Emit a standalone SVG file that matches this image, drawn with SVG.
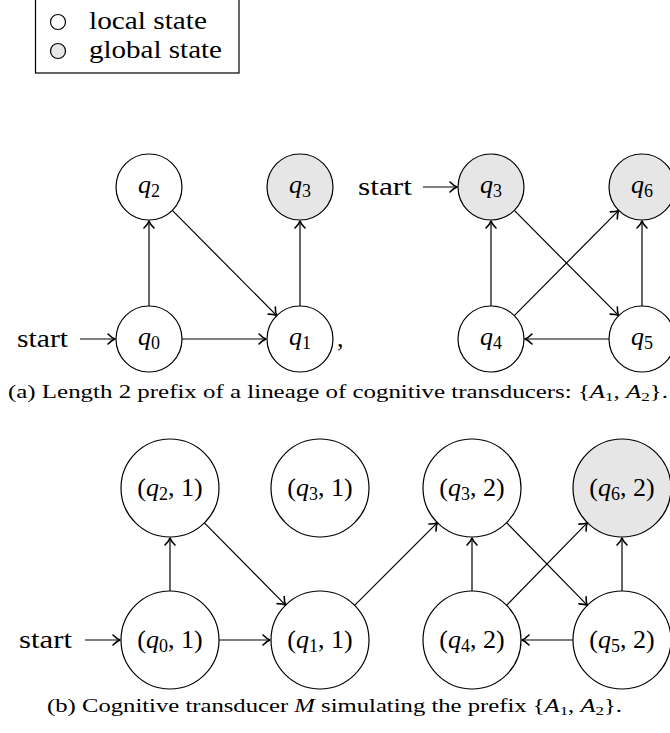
<svg xmlns="http://www.w3.org/2000/svg" width="670" height="733" viewBox="0 0 670 733">
<style>
.n{fill:#fff;stroke:#000;stroke-width:1.2}
.g{fill:#e6e6e6;stroke:#000;stroke-width:1.2}
.t{font-family:"Liberation Serif","Times New Roman",serif;font-size:26px;fill:#000}
.lab{font-family:"Liberation Serif","Times New Roman",serif;font-size:26px;fill:#000;text-anchor:middle}
.i{font-style:italic}
.cap{font-family:"Liberation Serif","Times New Roman",serif;font-size:19px;fill:#000}
.leg{font-family:"Liberation Serif","Times New Roman",serif;font-size:25px;fill:#000}
.e{stroke:#000;stroke-width:1.2;fill:none;marker-end:url(#arr)}
</style>
<defs>
<marker id="arr" markerUnits="userSpaceOnUse" viewBox="-9 -7 11 14" markerWidth="11" markerHeight="14" refX="0" refY="0" orient="auto">
<path d="M -7 -5 C -4 -2 -1.8 -0.6 0 0 C -1.8 0.6 -4 2 -7 5" fill="none" stroke="#000" stroke-width="1.6" stroke-linecap="round" stroke-linejoin="round"/>
</marker>
</defs>

<g id="legend">
<rect x="35.5" y="-1" width="203.5" height="74" fill="#fff" stroke="#000" stroke-width="1.2"/>
<circle cx="58" cy="22" r="7.5" class="n"/>
<circle cx="58" cy="51" r="7.5" class="g"/>
<text x="89" y="29" class="leg" textLength="118" lengthAdjust="spacingAndGlyphs">local state</text>
<text x="89" y="58" class="leg" textLength="133" lengthAdjust="spacingAndGlyphs">global state</text>
</g>

<!-- (a) left automaton -->
<g id="a1_q0"><circle cx="149" cy="339" r="33" class="n"/><text x="149" y="345" class="lab"><tspan class="i">q</tspan><tspan font-size="18" dy="4">0</tspan></text></g>
<g id="a1_q1"><circle cx="300" cy="339" r="33" class="n"/><text x="300" y="345" class="lab"><tspan class="i">q</tspan><tspan font-size="18" dy="4">1</tspan></text></g>
<g id="a1_q2"><circle cx="149" cy="187" r="33" class="n"/><text x="149" y="193" class="lab"><tspan class="i">q</tspan><tspan font-size="18" dy="4">2</tspan></text></g>
<g id="a1_q3"><circle cx="300" cy="187" r="33" class="g"/><text x="300" y="193" class="lab"><tspan class="i">q</tspan><tspan font-size="18" dy="4">3</tspan></text></g>
<text x="17" y="347" class="t" textLength="51" lengthAdjust="spacingAndGlyphs">start</text>
<text x="337" y="347" class="t">,</text>

<!-- (a) right automaton -->
<g id="a2_q3"><circle cx="491" cy="187" r="33" class="g"/><text x="491" y="193" class="lab"><tspan class="i">q</tspan><tspan font-size="18" dy="4">3</tspan></text></g>
<g id="a2_q6"><circle cx="642" cy="187" r="33" class="g"/><text x="642" y="193" class="lab"><tspan class="i">q</tspan><tspan font-size="18" dy="4">6</tspan></text></g>
<g id="a2_q4"><circle cx="491" cy="339" r="33" class="n"/><text x="491" y="345" class="lab"><tspan class="i">q</tspan><tspan font-size="18" dy="4">4</tspan></text></g>
<g id="a2_q5"><circle cx="642" cy="339" r="33" class="n"/><text x="642" y="345" class="lab"><tspan class="i">q</tspan><tspan font-size="18" dy="4">5</tspan></text></g>
<text x="358" y="195" class="t" textLength="54" lengthAdjust="spacingAndGlyphs">start</text>

<text x="8" y="398" class="cap" textLength="660" lengthAdjust="spacingAndGlyphs">(a) Length 2 prefix of a lineage of cognitive transducers: {<tspan class="i">A</tspan><tspan font-size="13" dy="3">1</tspan><tspan dy="-3">, </tspan><tspan class="i">A</tspan><tspan font-size="13" dy="3">2</tspan><tspan dy="-3">}.</tspan></text>

<!-- (b) -->
<g id="b_q01"><circle cx="170" cy="640" r="49" class="n"/><text x="170" y="648" class="lab">(<tspan class="i">q</tspan><tspan font-size="18" dy="4">0</tspan><tspan dy="-4">, 1)</tspan></text></g>
<g id="b_q21"><circle cx="170" cy="488" r="49" class="n"/><text x="170" y="496" class="lab">(<tspan class="i">q</tspan><tspan font-size="18" dy="4">2</tspan><tspan dy="-4">, 1)</tspan></text></g>
<g id="b_q11"><circle cx="320" cy="640" r="49" class="n"/><text x="320" y="648" class="lab">(<tspan class="i">q</tspan><tspan font-size="18" dy="4">1</tspan><tspan dy="-4">, 1)</tspan></text></g>
<g id="b_q31"><circle cx="320" cy="488" r="49" class="n"/><text x="320" y="496" class="lab">(<tspan class="i">q</tspan><tspan font-size="18" dy="4">3</tspan><tspan dy="-4">, 1)</tspan></text></g>
<g id="b_q32"><circle cx="472" cy="488" r="49" class="n"/><text x="472" y="496" class="lab">(<tspan class="i">q</tspan><tspan font-size="18" dy="4">3</tspan><tspan dy="-4">, 2)</tspan></text></g>
<g id="b_q62"><circle cx="622" cy="488" r="49" class="g"/><text x="622" y="496" class="lab">(<tspan class="i">q</tspan><tspan font-size="18" dy="4">6</tspan><tspan dy="-4">, 2)</tspan></text></g>
<g id="b_q42"><circle cx="472" cy="640" r="49" class="n"/><text x="472" y="648" class="lab">(<tspan class="i">q</tspan><tspan font-size="18" dy="4">4</tspan><tspan dy="-4">, 2)</tspan></text></g>
<g id="b_q52"><circle cx="622" cy="640" r="49" class="n"/><text x="622" y="648" class="lab">(<tspan class="i">q</tspan><tspan font-size="18" dy="4">5</tspan><tspan dy="-4">, 2)</tspan></text></g>
<text x="19" y="648" class="t" textLength="53" lengthAdjust="spacingAndGlyphs">start</text>

<text x="47" y="712" class="cap" textLength="575" lengthAdjust="spacingAndGlyphs">(b) Cognitive transducer <tspan class="i">M</tspan> simulating the prefix {<tspan class="i">A</tspan><tspan font-size="13" dy="3">1</tspan><tspan dy="-3">, </tspan><tspan class="i">A</tspan><tspan font-size="13" dy="3">2</tspan><tspan dy="-3">}.</tspan></text>

<g id="connectors">
<!-- (a) left -->
<line x1="80" y1="339" x2="115" y2="339" class="e"/>
<line x1="149" y1="306" x2="149" y2="221" class="e"/>
<line x1="172.3" y1="210.4" x2="276.7" y2="315.6" class="e"/>
<line x1="182" y1="339" x2="266" y2="339" class="e"/>
<line x1="300" y1="306" x2="300" y2="221" class="e"/>
<!-- (a) right -->
<line x1="423" y1="187" x2="457" y2="187" class="e"/>
<line x1="491" y1="306" x2="491" y2="221" class="e"/>
<line x1="514.3" y1="210.4" x2="618.7" y2="315.6" class="e"/>
<line x1="514.3" y1="315.6" x2="618.7" y2="210.4" class="e"/>
<line x1="642" y1="306" x2="642" y2="221" class="e"/>
<line x1="609" y1="339" x2="525" y2="339" class="e"/>
<!-- (b) -->
<line x1="85" y1="640" x2="120" y2="640" class="e"/>
<line x1="170" y1="591" x2="170" y2="538" class="e"/>
<line x1="204.4" y1="522.9" x2="285.6" y2="605.1" class="e"/>
<line x1="219" y1="640" x2="270" y2="640" class="e"/>
<line x1="354.6" y1="605.4" x2="437.4" y2="522.6" class="e"/>
<line x1="472" y1="591" x2="472" y2="538" class="e"/>
<line x1="506.6" y1="522.6" x2="587.4" y2="605.4" class="e"/>
<line x1="506.6" y1="605.4" x2="587.4" y2="522.6" class="e"/>
<line x1="622" y1="591" x2="622" y2="538" class="e"/>
<line x1="573" y1="640" x2="522" y2="640" class="e"/>
</g>
</svg>
